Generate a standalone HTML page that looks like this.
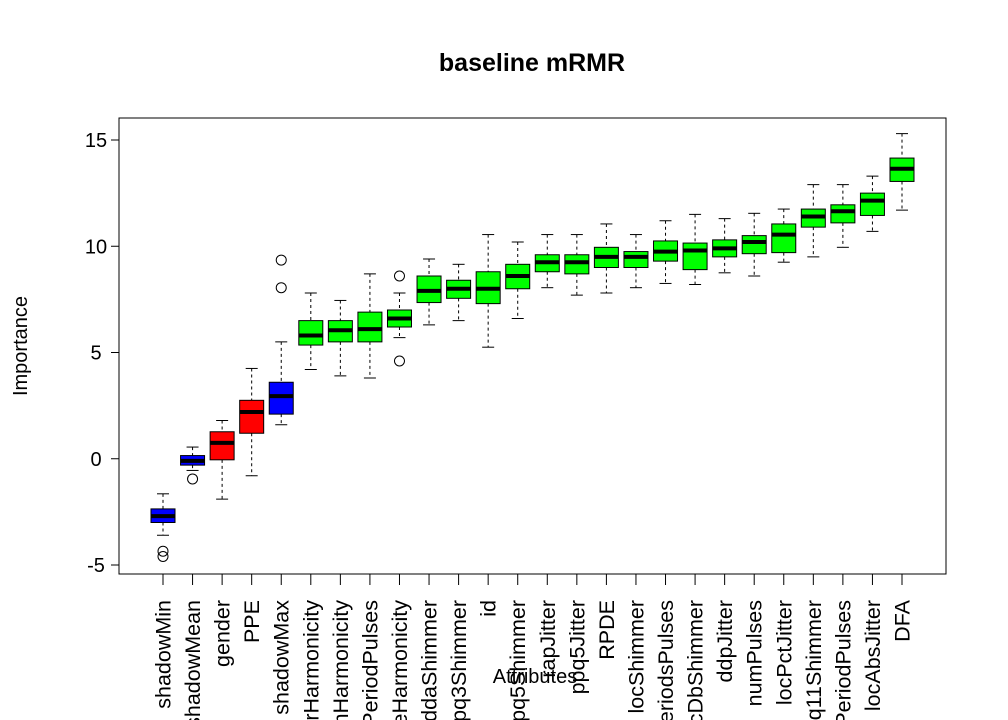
<!DOCTYPE html>
<html><head><meta charset="utf-8">
<style>
html,body{margin:0;padding:0;background:#fff;overflow:hidden;width:1008px;height:720px;}
svg{display:block;font-family:"Liberation Sans",Arial,sans-serif;}
</style></head>
<body>
<svg id="chart" width="1008" height="720" viewBox="0 0 1008 720" xmlns="http://www.w3.org/2000/svg">
<text x="532" y="71" text-anchor="middle" font-size="25" font-weight="bold">baseline mRMR</text>
<text transform="translate(27,346) rotate(-90)" text-anchor="middle" font-size="20">Importance</text>
<text x="535" y="683" text-anchor="middle" font-size="20">Attributes</text>
<rect x="119" y="118" width="827" height="456" fill="none" stroke="#000" stroke-width="1"/>
<g id="yaxis"></g>
<g id="boxes"></g>
<g id="xlabels"></g>
</svg>
<script>
const categories=["shadowMin","shadowMean","gender","PPE","shadowMax","meanAutoCorrHarmonicity","meanNoiseToHarmHarmonicity","stdDevPeriodPulses","meanHarmToNoiseHarmonicity","ddaShimmer","apq3Shimmer","id","apq5Shimmer","rapJitter","ppq5Jitter","RPDE","locShimmer","numPeriodsPulses","locDbShimmer","ddpJitter","numPulses","locPctJitter","apq11Shimmer","meanPeriodPulses","locAbsJitter","DFA"];
const decisions=["shadow","shadow","rejected","rejected","shadow","confirmed","confirmed","confirmed","confirmed","confirmed","confirmed","confirmed","confirmed","confirmed","confirmed","confirmed","confirmed","confirmed","confirmed","confirmed","confirmed","confirmed","confirmed","confirmed","confirmed","confirmed"];
const whiskerHigh=[-1.65,0.55,1.8,4.25,5.5,7.8,7.45,8.7,7.8,9.4,9.15,10.55,10.2,10.55,10.55,11.05,10.55,11.2,11.5,11.3,11.55,11.75,12.9,12.9,13.3,15.3];
const q3=[-2.36,0.15,1.27,2.75,3.6,6.5,6.5,6.9,7.0,8.6,8.4,8.8,9.15,9.6,9.6,9.95,9.75,10.25,10.15,10.3,10.5,11.05,11.75,11.95,12.5,14.15];
const medians=[-2.7,-0.1,0.75,2.2,2.95,5.8,6.05,6.1,6.6,7.9,8.0,8.0,8.6,9.25,9.25,9.5,9.5,9.75,9.8,9.9,10.2,10.55,11.4,11.65,12.15,13.65];
const q1=[-3.0,-0.3,-0.05,1.2,2.1,5.35,5.5,5.5,6.2,7.35,7.55,7.3,8.0,8.8,8.7,9.0,9.0,9.3,8.9,9.5,9.65,9.7,10.9,11.1,11.45,13.05];
const whiskerLow=[-3.6,-0.55,-1.9,-0.8,1.6,4.2,3.9,3.8,5.7,6.3,6.5,5.25,6.6,8.05,7.7,7.8,8.05,8.25,8.2,8.75,8.6,9.25,9.5,9.95,10.7,11.7];
const outliers=[[-4.35,-4.6],[-0.95],[],[],[9.35,8.05],[],[],[],[8.6,4.6],[],[],[],[],[],[],[],[],[],[],[],[],[],[],[],[],[]];
const yTicks=[-5,0,5,10,15];
const colors={shadow:"#0000ff",rejected:"#ff0000",confirmed:"#00ff00"};
const NS="http://www.w3.org/2000/svg";
function y(v){return 458.75-v*21.25;}
function x(i){return 163+i*29.56;}
function mk(tag,attrs,parent){const e=document.createElementNS(NS,tag);for(const k in attrs)e.setAttribute(k,attrs[k]);parent.appendChild(e);return e;}
const ya=document.getElementById('yaxis');
mk('line',{x1:119,x2:119,y1:y(-5),y2:y(15),stroke:'#000'},ya);
yTicks.forEach(t=>{
 const l=mk('line',{x1:111,x2:119,y1:y(t),y2:y(t),stroke:'#000'},ya);
 
 
 const tx=mk('text',{x:96,y:y(t)+7,'text-anchor':'middle','font-size':'20'},ya);
 
 
 tx.textContent=t;
});
const bg=document.getElementById('boxes');
const xl=document.getElementById('xlabels');
const hw=12;
categories.forEach((c,i)=>{
 const cx=x(i);
 const g=mk('g',{},bg);
 
 
 mk('line',{x1:cx,x2:cx,y1:y(whiskerHigh[i]),y2:y(q3[i]),stroke:'#000','stroke-dasharray':'3,3'},g);
 mk('line',{x1:cx,x2:cx,y1:y(q1[i]),y2:y(whiskerLow[i]),stroke:'#000','stroke-dasharray':'3,3'},g);
 mk('line',{x1:cx-6,x2:cx+6,y1:y(whiskerHigh[i]),y2:y(whiskerHigh[i]),stroke:'#000'},g);
 mk('line',{x1:cx-6,x2:cx+6,y1:y(whiskerLow[i]),y2:y(whiskerLow[i]),stroke:'#000'},g);
 mk('rect',{x:cx-hw,y:y(q3[i]),width:2*hw,height:y(q1[i])-y(q3[i]),fill:colors[decisions[i]],stroke:'#000'},g);
 mk('line',{x1:cx-hw,x2:cx+hw,y1:y(medians[i]),y2:y(medians[i]),stroke:'#000','stroke-width':4},g);
 outliers[i].forEach(o=>{
  const p=mk('circle',{cx:cx,cy:y(o),r:5,fill:'none',stroke:'#000'},g);
  
  
 });
 const tk=mk('line',{x1:cx,x2:cx,y1:574,y2:585,stroke:'#000'},xl);
 
 
 const t=mk('text',{transform:`translate(${cx+7.5},600) rotate(-90)`,'text-anchor':'end','font-size':'21.5'},xl);
 
 
 t.textContent=c;
});
</script>
</body></html>
